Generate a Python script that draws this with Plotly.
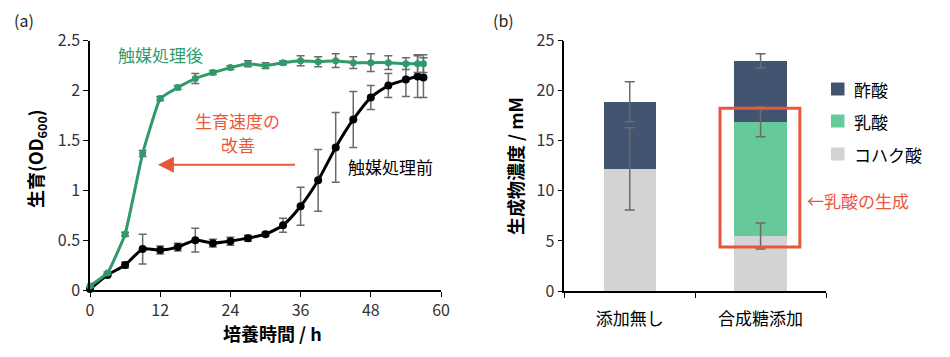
import plotly.graph_objects as go

# ---------------- data ----------------
time_h = [0, 3, 6, 9, 12, 15, 18, 21, 24, 27, 30, 33, 36, 39, 42, 45, 48, 51, 54, 56, 57]
od_after = [0.04, 0.17, 0.56, 1.37, 1.92, 2.03, 2.12, 2.18, 2.23, 2.27, 2.25, 2.28, 2.30, 2.29,
            2.30, 2.28, 2.28, 2.28, 2.27, 2.27, 2.27]
od_after_err = [0.01, 0.01, 0.02, 0.03, 0.02, 0.02, 0.05, 0.02, 0.02, 0.03, 0.03, 0.02, 0.05,
                0.05, 0.07, 0.06, 0.09, 0.07, 0.06, 0.09, 0.09]
od_before = [0.01, 0.15, 0.25, 0.41, 0.40, 0.43, 0.50, 0.47, 0.49, 0.52, 0.56, 0.65, 0.84, 1.10,
             1.43, 1.71, 1.93, 2.05, 2.11, 2.14, 2.13]
od_before_err = [0.0, 0.01, 0.03, 0.15, 0.04, 0.04, 0.12, 0.04, 0.04, 0.03, 0.02, 0.07, 0.19,
                 0.31, 0.35, 0.28, 0.12, 0.12, 0.17, 0.21, 0.2]

x_ticks_a = [0, 12, 24, 36, 48, 60]

categories = ["添加無し", "合成糖添加"]
succinic = [12.2, 5.5]
lactic = [0.0, 11.4]
acetic = [6.7, 6.1]
succinic_err = [4.1, 1.3]
lactic_err = [None, 1.5]
acetic_err = [2.0, 0.7]

series_names = ["酢酸", "乳酸", "コハク酸"]

# ---------------- style ----------------
OFF = 8  # page body margin
W, H = 950 - OFF, 357 - OFF
FONT = "Noto Sans CJK JP"
GREEN = "#2f9a6a"
BLACK = "#000000"
RED = "#e9573b"
C_ACE = "#435470"
C_LAC = "#66c99a"
C_SUC = "#d3d2d4"
ERR = "#6a6a6a"


def px(x):
    return (x - OFF) / W


def py(y):
    return 1 - (y - OFF) / H


fig = go.Figure()

# ---- panel (a) ----
fig.add_trace(go.Scatter(
    x=time_h, y=od_before, mode="lines+markers", xaxis="x", yaxis="y",
    line=dict(color=BLACK, width=3, shape="spline", smoothing=0.6),
    marker=dict(color=BLACK, size=8),
    error_y=dict(type="data", array=od_before_err, color=ERR, thickness=1.5, width=4),
    cliponaxis=False, showlegend=False))
fig.add_trace(go.Scatter(
    x=time_h, y=od_after, mode="lines+markers", xaxis="x", yaxis="y",
    line=dict(color=GREEN, width=3, shape="spline", smoothing=0.3),
    marker=dict(color=GREEN, size=7),
    error_y=dict(type="data", array=od_after_err, color=ERR, thickness=1.5, width=4),
    cliponaxis=False, showlegend=False))

# ---- panel (b) ----
for vals, col, name in [(succinic, C_SUC, series_names[2]),
                        (lactic, C_LAC, series_names[1]),
                        (acetic, C_ACE, series_names[0])]:
    fig.add_trace(go.Bar(x=categories, y=vals, marker=dict(color=col, line=dict(width=0)),
                         name=name, xaxis="x2", yaxis="y2", showlegend=False))

top_suc = list(succinic)
top_lac = [s + l if l > 0 else None for s, l in zip(succinic, lactic)]
top_ace = [s + l + a for s, l, a in zip(succinic, lactic, acetic)]
for tops, errs in [(top_suc, succinic_err), (top_lac, lactic_err), (top_ace, acetic_err)]:
    fig.add_trace(go.Scatter(
        x=categories, y=tops, mode="markers", xaxis="x2", yaxis="y2",
        marker=dict(size=1, opacity=0),
        error_y=dict(type="data", array=[e if e is not None else 0 for e in errs],
                     color=ERR, thickness=1.5, width=5),
        showlegend=False, hoverinfo="skip"))

tickfont = dict(family=FONT, size=16, color="#333333")
axis_common = dict(showline=True, linecolor="#000", linewidth=1.5, ticks="outside",
                   ticklen=5, tickcolor="#000", showgrid=False, zeroline=False,
                   automargin=False)

fig.update_layout(
    template="none",
    width=W, height=H,
    margin=dict(l=0, r=0, t=0, b=0, pad=0),
    paper_bgcolor="white", plot_bgcolor="white",
    font=dict(family=FONT, color="#000000"),
    barmode="stack", bargap=0.6, showlegend=False,
    xaxis=dict(domain=[px(90), px(441)], anchor="y", range=[0, 60],
               tickvals=x_ticks_a, tickfont=tickfont, **axis_common),
    yaxis=dict(domain=[py(290), py(40.7)], anchor="x", range=[0, 2.5], dtick=0.5,
               tickfont=tickfont, **axis_common),
    xaxis2=dict(domain=[px(564.3), px(826)], anchor="y2", type="category",
                range=[-0.5, 1.5], tickson="boundaries", ticklabelstandoff=12,
                tickfont=dict(family=FONT, size=17, color="#000"), **axis_common),
    yaxis2=dict(domain=[py(291), py(40.7)], anchor="x2", range=[0, 25], dtick=5,
                tickfont=tickfont, **axis_common),
)


def A(x, y, text, size=17, color="#000", xref="paper", yref="paper", xanchor="center",
      angle=0):
    return dict(x=x, y=y, xref=xref, yref=yref, text=text, showarrow=False,
                xanchor=xanchor, yanchor="middle", textangle=angle,
                font=dict(family=FONT, size=size, color=color))


ann = []
# panel labels
ann.append(A(px(12), py(20), "(a)", size=16, color="#222", xanchor="left"))
ann.append(A(px(491), py(20), "(b)", size=16, color="#222", xanchor="left"))
# axis titles
ann.append(A(px(36), py(159), "<b>生育(OD<sub>600</sub>)</b>", size=18, angle=-90))
ann.append(A(px(272), py(333), "<b>培養時間 / h</b>", size=18))
ann.append(A(px(515), py(166), "<b>生成物濃度 / mM</b>", size=18, angle=-90))
# panel (a) labels
ann.append(A(12.05, 2.36, "触媒処理後", color=GREEN, xref="x", yref="y"))
ann.append(A(25.25, 1.695, "生育速度の", color=RED, xref="x", yref="y"))
ann.append(A(25.25, 1.46, "改善", color=RED, xref="x", yref="y"))
ann.append(A(51.45, 1.243, "触媒処理前", xref="x", yref="y"))
ann.append(dict(x=11.6, y=1.257, xref="x", yref="y", ax=35.3, ay=1.257, axref="x", ayref="y",
                text="", showarrow=True, arrowhead=2, arrowsize=1.6, arrowwidth=2,
                arrowcolor=RED))
# panel (b) legend
shapes = []
leg_y = [89, 121, 154]
leg_cols = [C_ACE, C_LAC, C_SUC]
for name, col, yy in zip(series_names, leg_cols, leg_y):
    shapes.append(dict(type="rect", xref="paper", yref="paper", x0=px(831), x1=px(844.5),
                       y0=py(yy + 6.5), y1=py(yy - 6.5), fillcolor=col, line=dict(width=0)))
    ann.append(A(px(852), py(yy), name, xanchor="left"))
# red box
shapes.append(dict(type="rect", xref="x2", yref="y2", x0=0.69, x1=1.30, y0=4.4, y1=18.25,
                   line=dict(color=RED, width=3), fillcolor="rgba(0,0,0,0)"))
ann.append(A(px(805), py(200), "←乳酸の生成", color=RED, xanchor="left"))

fig.update_layout(annotations=ann, shapes=shapes)

fig.write_html("out.html")
